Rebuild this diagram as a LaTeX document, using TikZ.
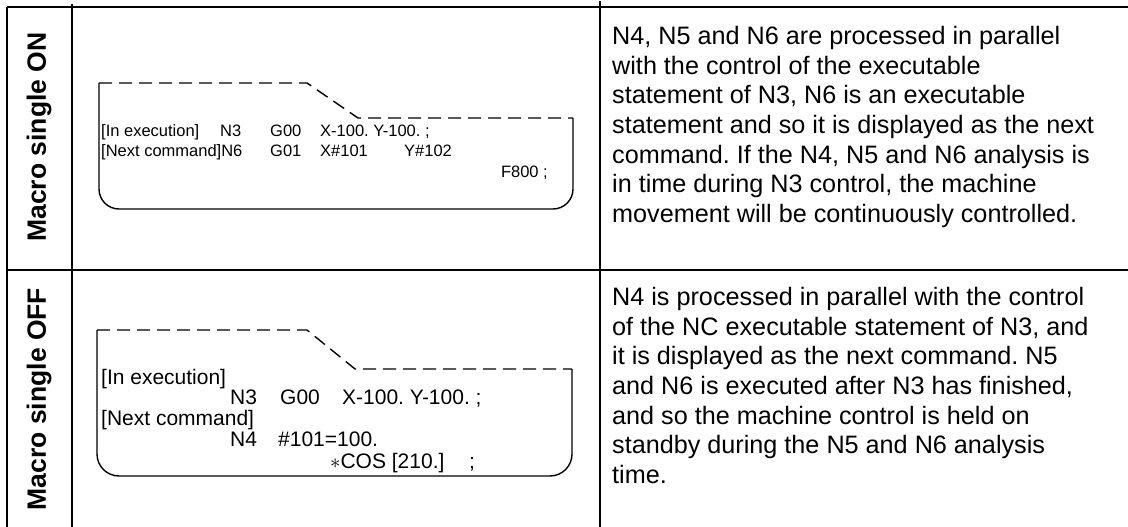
\documentclass[tikz,border=0pt]{standalone}
\usepackage{fontspec}
\setmainfont{Liberation Sans}
\frenchspacing
\begin{document}
\begin{tikzpicture}[x=1pt,y=-1pt,
  grid/.style={line width=2.2pt},
  boxsolid/.style={line width=1.4pt},
  boxdash/.style={line width=1.4pt, dash pattern=on 13pt off 7pt},
  code/.style={inner sep=0pt, anchor=base west, font=\fontsize{21}{21}\selectfont},
  smallcode/.style={inner sep=0pt, anchor=base west, font=\fontsize{16.5}{16.5}\selectfont},
  desc/.style={inner sep=0pt, anchor=north west, align=left, font=\fontsize{25.2}{29.7}\selectfont},
  lab/.style={rotate=90, inner sep=0pt, font=\fontsize{26.5}{26.5}\selectfont\bfseries}]
\useasboundingbox (0,0) rectangle (1128,527);
% table grid
\draw[grid] (7,7) -- (1128,7);
\draw[grid] (7,270) -- (1128,270);
\draw[grid] (7,7) -- (7,527);
\draw[grid] (72,4) -- (72,527);
\draw[grid] (600,1) -- (600,527);
% labels
\node[lab] (labon) at (39,137) {Macro single ON};
\node[lab] (laboff) at (39,399) {Macro single OFF};
% box 1
\draw[boxdash] (99,83) -- (307,83) -- (358,118) -- (573,118);
\draw[boxsolid] (573,118) -- (573,189) arc[start angle=0,end angle=90,radius=20] -- (119,209)
  arc[start angle=90,end angle=180,radius=20] -- (99,83);
\node[smallcode] (a1) at (101,136) {[In execution]};
\node[smallcode] (a2) at (220,136) {N3};
\node[smallcode] (a3) at (270,136) {G00};
\node[smallcode] (a4) at (320,136) {X-100. Y-100. ;};
\node[smallcode] (b1) at (101,156) {[Next command]N6};
\node[smallcode] (b3) at (270,156) {G01};
\node[smallcode] (b4) at (320,156) {X\#101};
\node[smallcode] (b5) at (404,156) {Y\#102};
\node[smallcode,anchor=base east] (c1) at (548,177) {F800 ;};
% box 2
\draw[boxdash] (97,330) -- (307,330) -- (355,369) -- (572,369);
\draw[boxsolid] (572,369) -- (572,454) arc[start angle=0,end angle=90,radius=22] -- (119,476)
  arc[start angle=90,end angle=180,radius=22] -- (97,330);
\node[code] (d1) at (101,384) {[In execution]};
\node[code] (d2) at (230,404.5) {N3};
\node[code] (d3) at (280,404.5) {G00};
\node[code] (d4) at (342,404.5) {X-100. Y-100. ;};
\node[code] (e1) at (101,425) {[Next command]};
\node[code] (e2) at (230,446) {N4};
\node[code] (e3) at (278,446) {\#101=100.};
\node[code] (e4) at (330,468) {$\ast$COS [210.]};
\node[code] (e5) at (469,468) {;};
% descriptions
\node[desc] (t1) at (612,26) {N4, N5 and N6 are processed in parallel\\with the control of the executable\\statement of N3, N6 is an executable\\statement and so it is displayed as the next\\command. If the N4, N5 and N6 analysis is\\in time during N3 control, the machine\\movement will be continuously controlled.};
\node[desc] (t2) at (612,287) {N4 is processed in parallel with the control\\of the NC executable statement of N3, and\\it is displayed as the next command. N5\\and N6 is executed after N3 has finished,\\and so the machine control is held on\\standby during the N5 and N6 analysis\\time.};
\end{tikzpicture}
\end{document}
